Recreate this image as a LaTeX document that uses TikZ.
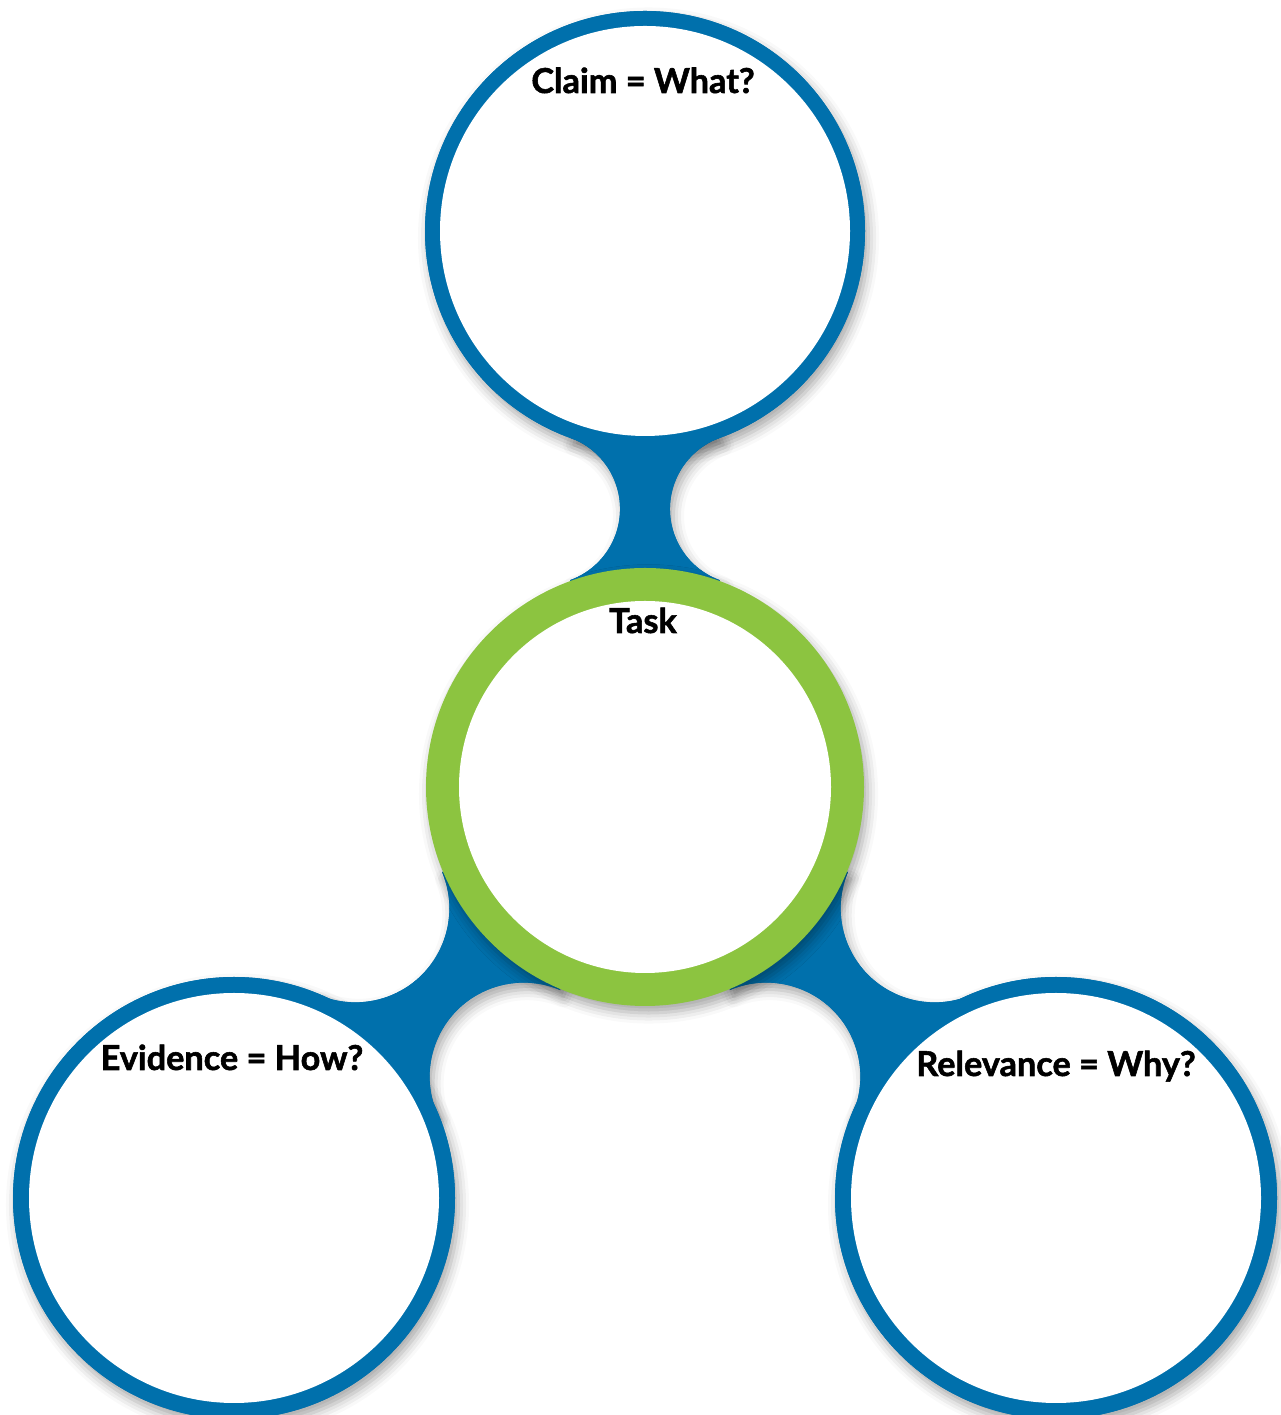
\documentclass[tikz,border=0pt]{standalone}
\usepackage{fontspec}
\setmainfont{Lato}[BoldFeatures={FakeBold=1.6}]
\usepackage{xcolor}
\usepackage{tikz}
\usetikzlibrary{shadows.blur}

\definecolor{ringblue}{RGB}{0,112,172}
\definecolor{taskgreen}{RGB}{140,196,64}

\newcommand{\bluepaths}[1]{%
    \fill[ringblue, #1] (claim) -- (570.1,977.2) arc[start angle=70.1, end angle=-70.1, radius=75.7] -- (task) -- (719.9,834.8) arc[start angle=250.1, end angle=109.9, radius=75.7] -- cycle;
    \fill[ringblue, #1] (task) -- (442.1,542.9) arc[start angle=22.7, end angle=-112.7, radius=94] -- (evidence) -- (436.9,302.1) arc[start angle=202.7, end angle=67.3, radius=94] -- cycle;
    \fill[ringblue, #1] (task) -- (730.1,425.1) arc[start angle=112.7, end angle=-22.7, radius=94] -- (relevance) -- (970.9,419.9) arc[start angle=292.7, end angle=157.3, radius=94] -- cycle;
    \fill[ringblue, #1] (claim) circle[radius=220];
    \fill[ringblue, #1] (evidence) circle[radius=221];
    \fill[ringblue, #1] (relevance) circle[radius=221];
}

\begin{document}
\begin{tikzpicture}[x=0.02cm, y=0.02cm,
    drop/.style={blur shadow={shadow xshift=2pt, shadow yshift=-4pt, shadow blur radius=6pt, shadow opacity=35}},
    heading/.style={font=\fontsize{19.5}{23}\selectfont\bfseries, anchor=base}]
    \useasboundingbox (0,0) rectangle (1280,1415);

    \coordinate (claim) at (645,1184);
    \coordinate (task) at (645,628);
    \coordinate (evidence) at (234,217);
    \coordinate (relevance) at (1056,217);

    \bluepaths{drop}
    \bluepaths{}

    \fill[taskgreen, drop] (task) circle[radius=219];
    \fill[white] (task) circle[radius=186];
    \fill[white] (claim) circle[radius=205];
    \fill[white] (evidence) circle[radius=205];
    \fill[white] (relevance) circle[radius=205];

    \node[heading] (claimtext) at (643,1322) {Claim = What?};
    \node[heading] (tasktext) at (643,782) {Task};
    \node[heading] (evidencetext) at (232,345) {Evidence = How?};
    \node[heading] (relevancetext) at (1056,339) {Relevance = Why?};
\end{tikzpicture}
\end{document}
